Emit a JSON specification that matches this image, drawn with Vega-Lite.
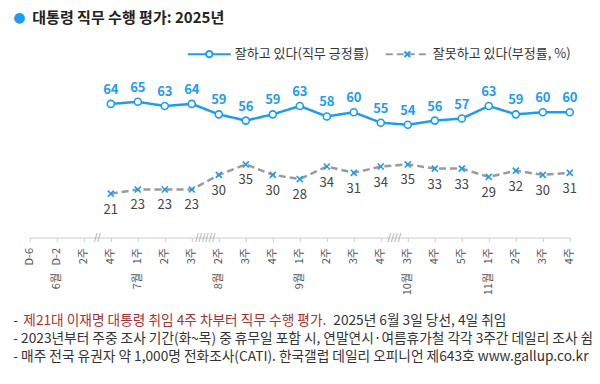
{
  "$schema": "https://vega.github.io/schema/vega-lite/v6.json",
  "width": 540,
  "height": 167,
  "autosize": "none",
  "padding": {"left": 29.8, "top": 70.5, "right": 30.2, "bottom": 146.5},
  "background": "white",
  "config": {
    "view": {"stroke": null},
    "font": "Noto Sans CJK KR",
    "legend": {"labelFont": "Noto Sans CJK KR", "titleFont": "Noto Sans CJK KR"}
  },
  "datasets": {
    "polls": [
      {"idx": 3, "series": "잘하고 있다(직무 긍정률)", "value": 64},
      {"idx": 4, "series": "잘하고 있다(직무 긍정률)", "value": 65},
      {"idx": 5, "series": "잘하고 있다(직무 긍정률)", "value": 63},
      {"idx": 6, "series": "잘하고 있다(직무 긍정률)", "value": 64},
      {"idx": 7, "series": "잘하고 있다(직무 긍정률)", "value": 59},
      {"idx": 8, "series": "잘하고 있다(직무 긍정률)", "value": 56},
      {"idx": 9, "series": "잘하고 있다(직무 긍정률)", "value": 59},
      {"idx": 10, "series": "잘하고 있다(직무 긍정률)", "value": 63},
      {"idx": 11, "series": "잘하고 있다(직무 긍정률)", "value": 58},
      {"idx": 12, "series": "잘하고 있다(직무 긍정률)", "value": 60},
      {"idx": 13, "series": "잘하고 있다(직무 긍정률)", "value": 55},
      {"idx": 14, "series": "잘하고 있다(직무 긍정률)", "value": 54},
      {"idx": 15, "series": "잘하고 있다(직무 긍정률)", "value": 56},
      {"idx": 16, "series": "잘하고 있다(직무 긍정률)", "value": 57},
      {"idx": 17, "series": "잘하고 있다(직무 긍정률)", "value": 63},
      {"idx": 18, "series": "잘하고 있다(직무 긍정률)", "value": 59},
      {"idx": 19, "series": "잘하고 있다(직무 긍정률)", "value": 60},
      {"idx": 20, "series": "잘하고 있다(직무 긍정률)", "value": 60},
      {"idx": 3, "series": "잘못하고 있다(부정률, %)", "value": 21},
      {"idx": 4, "series": "잘못하고 있다(부정률, %)", "value": 23},
      {"idx": 5, "series": "잘못하고 있다(부정률, %)", "value": 23},
      {"idx": 6, "series": "잘못하고 있다(부정률, %)", "value": 23},
      {"idx": 7, "series": "잘못하고 있다(부정률, %)", "value": 30},
      {"idx": 8, "series": "잘못하고 있다(부정률, %)", "value": 35},
      {"idx": 9, "series": "잘못하고 있다(부정률, %)", "value": 30},
      {"idx": 10, "series": "잘못하고 있다(부정률, %)", "value": 28},
      {"idx": 11, "series": "잘못하고 있다(부정률, %)", "value": 34},
      {"idx": 12, "series": "잘못하고 있다(부정률, %)", "value": 31},
      {"idx": 13, "series": "잘못하고 있다(부정률, %)", "value": 34},
      {"idx": 14, "series": "잘못하고 있다(부정률, %)", "value": 35},
      {"idx": 15, "series": "잘못하고 있다(부정률, %)", "value": 33},
      {"idx": 16, "series": "잘못하고 있다(부정률, %)", "value": 33},
      {"idx": 17, "series": "잘못하고 있다(부정률, %)", "value": 29},
      {"idx": 18, "series": "잘못하고 있다(부정률, %)", "value": 32},
      {"idx": 19, "series": "잘못하고 있다(부정률, %)", "value": 30},
      {"idx": 20, "series": "잘못하고 있다(부정률, %)", "value": 31}
    ],
    "months": [
      {"idx": 1, "month": "6월"},
      {"idx": 4, "month": "7월"},
      {"idx": 7, "month": "8월"},
      {"idx": 10, "month": "9월"},
      {"idx": 14, "month": "10월"},
      {"idx": 17, "month": "11월"}
    ],
    "breaks": [
      {"idx": 2.5, "mark": "//"},
      {"idx": 6.5, "mark": "//////"},
      {"idx": 13.5, "mark": "////"}
    ]
  },
  "layer": [
    {
      "data": {"name": "polls"},
      "mark": {"type": "line", "strokeWidth": 2.5},
      "encoding": {
        "x": {
          "field": "idx", "type": "quantitative",
          "scale": {"domain": [0, 20], "nice": false, "zero": false},
          "axis": {
            "orient": "bottom",
            "values": [0,1,2,3,4,5,6,7,8,9,10,11,12,13,14,15,16,17,18,19,20],
            "labelExpr": "['D-6','D-2','2주','4주','1주','2주','3주','2주','3주','4주','1주','2주','3주','4주','3주','4주','5주','1주','2주','3주','4주'][datum.value]",
            "labelAngle": -90,
            "labelAlign": "right",
            "labelBaseline": "middle",
            "labelFont": "Noto Sans CJK KR",
            "labelFontSize": 11,
            "labelColor": "#555555",
            "labelPadding": 6,
            "labelOverlap": false,
            "labelFlush": false,
            "labelBound": false,
            "tickSize": 4,
            "tickColor": "#cccccc",
            "domainColor": "#cccccc",
            "grid": false,
            "title": ["- 2023년부터 주중 조사 기간(화~목) 중 휴무일 포함 시, 연말연시·여름휴가철 각각 3주간 데일리 조사 쉼", "- 매주 전국 유권자 약 1,000명 전화조사(CATI). 한국갤럽 데일리 오피니언 제643호 www.gallup.co.kr"],
            "titleX": -17,
            "titleY": 105,
            "titleAlign": "left",
            "titleAnchor": "start",
            "titleAngle": 0,
            "titleBaseline": "alphabetic",
            "titleLineHeight": 18,
            "titleFont": "Noto Sans CJK KR",
            "titleFontSize": 13.7,
            "titleFontWeight": "normal",
            "titleColor": "#333333"
          }
        },
        "y": {
          "field": "value", "type": "quantitative",
          "scale": {"domain": [0, 80], "nice": false},
          "axis": {
            "orient": "left",
            "labels": false, "ticks": false, "domain": false, "grid": false,
            "title": "제21대 이재명 대통령 취임 4주 차부터 직무 수행 평가.",
            "titleX": -7,
            "titleY": 254,
            "titleAngle": 0,
            "titleAlign": "left",
            "titleBaseline": "alphabetic",
            "titleFont": "Noto Sans CJK KR",
            "titleFontSize": 13.7,
            "titleFontWeight": "normal",
            "titleColor": "#a83232"
          }
        },
        "color": {
          "field": "series", "type": "nominal",
          "scale": {"domain": ["잘하고 있다(직무 긍정률)", "잘못하고 있다(부정률, %)"], "range": ["#1e9cf0", "#9a9a9a"]},
          "legend": {
            "orient": "none", "legendX": 157, "legendY": -39, "direction": "horizontal",
            "title": null, "padding": 0, "symbolType": "stroke", "symbolSize": 1849, "symbolStrokeWidth": 2,
            "labelFontSize": 13, "labelColor": "#333333", "labelOffset": 3, "columnPadding": 12
          }
        },
        "strokeDash": {
          "field": "series", "type": "nominal",
          "scale": {"domain": ["잘하고 있다(직무 긍정률)", "잘못하고 있다(부정률, %)"], "range": [[1, 0], [7, 4]]},
          "legend": {
            "orient": "none", "legendX": 157, "legendY": -39, "direction": "horizontal",
            "title": null, "padding": 0, "symbolType": "stroke", "symbolSize": 1849, "symbolStrokeWidth": 2,
            "labelFontSize": 13, "labelColor": "#333333", "labelOffset": 3, "columnPadding": 12
          }
        }
      }
    },
    {
      "data": {"name": "polls"},
      "mark": {"type": "point", "filled": true, "fill": "white", "strokeWidth": 1.6, "size": 2178, "opacity": 1},
      "encoding": {
        "x": {"field": "idx", "type": "quantitative", "axis": null},
        "y": {"field": "value", "type": "quantitative", "axis": null},
        "shape": {
          "field": "series", "type": "nominal",
          "sort": ["잘하고 있다(직무 긍정률)", "잘못하고 있다(부정률, %)"],
          "scale": {"range": [
            "M-1,0M1,0M0.15,0A0.15,0.15,0,1,1,-0.15,0A0.15,0.15,0,1,1,0.15,0Z",
            "M-1,0M1,0M-0.13,-0.13L0.13,0.13M0.13,-0.13L-0.13,0.13"
          ]},
          "legend": null
        },
        "stroke": {
          "field": "series", "type": "nominal",
          "sort": ["잘하고 있다(직무 긍정률)", "잘못하고 있다(부정률, %)"],
          "scale": {"range": ["#1e9cf0", "#1e9cf0"]},
          "legend": {
            "orient": "none", "legendX": 157, "legendY": -39, "direction": "horizontal",
            "title": null, "padding": 0, "symbolSize": 1849, "symbolStrokeWidth": 2,
            "symbolFillColor": "white",
            "symbolType": {"expr": "datum.value == '잘하고 있다(직무 긍정률)' ? 'M-1,0M1,0M0.15,0A0.15,0.15,0,1,1,-0.15,0A0.15,0.15,0,1,1,0.15,0Z' : 'M-1,0M1,0M-0.13,-0.13L0.13,0.13M0.13,-0.13L-0.13,0.13'"},
            "labelFontSize": 13, "labelOpacity": 0, "labelOffset": 3, "columnPadding": 12
          }
        }
      }
    },
    {
      "data": {"name": "polls"},
      "transform": [{"filter": "datum.series == '잘하고 있다(직무 긍정률)'"}],
      "mark": {"type": "text", "dy": -14, "baseline": "middle", "align": "center", "fontSize": 13, "fontWeight": "bold", "color": "#1e9cf0", "font": "Noto Sans CJK KR"},
      "encoding": {
        "x": {"field": "idx", "type": "quantitative", "axis": null},
        "y": {
          "field": "value", "type": "quantitative",
          "axis": {
            "orient": "left",
            "labels": false, "ticks": false, "domain": false, "grid": false,
            "title": "-",
            "titleX": -17,
            "titleY": 254,
            "titleAngle": 0,
            "titleAlign": "left",
            "titleBaseline": "alphabetic",
            "titleFont": "Noto Sans CJK KR",
            "titleFontSize": 13.7,
            "titleFontWeight": "normal",
            "titleColor": "#333333"
          }
        },
        "text": {"field": "value", "type": "quantitative"}
      }
    },
    {
      "data": {"name": "polls"},
      "transform": [{"filter": "datum.series == '잘못하고 있다(부정률, %)'"}],
      "mark": {"type": "text", "dy": 16, "baseline": "middle", "align": "center", "fontSize": 13, "color": "#444444", "font": "Noto Sans CJK KR"},
      "encoding": {
        "x": {"field": "idx", "type": "quantitative", "axis": null},
        "y": {
          "field": "value", "type": "quantitative",
          "axis": {
            "orient": "right",
            "labels": false, "ticks": false, "domain": false, "grid": false,
            "title": "2025년 6월 3일 당선, 4일 취임",
            "titleX": -237,
            "titleY": 254,
            "titleAngle": 0,
            "titleAlign": "left",
            "titleBaseline": "alphabetic",
            "titleFont": "Noto Sans CJK KR",
            "titleFontSize": 13.7,
            "titleFontWeight": "normal",
            "titleColor": "#333333"
          }
        },
        "text": {"field": "value", "type": "quantitative"}
      }
    },
    {
      "data": {"name": "months"},
      "mark": {"type": "text", "angle": 270, "align": "right", "baseline": "middle", "fontSize": 11, "color": "#555555", "font": "Noto Sans CJK KR"},
      "encoding": {
        "x": {
          "field": "idx", "type": "quantitative",
          "axis": {
            "orient": "top",
            "labels": false, "ticks": false, "domain": false, "grid": false,
            "title": "●",
            "titleX": -17,
            "titleY": -53.5,
            "titleAngle": 0,
            "titleAlign": "left",
            "titleBaseline": "middle",
            "titleFont": "DejaVu Sans",
            "titleFontSize": 14,
            "titleFontWeight": "normal",
            "titleColor": "#1e9cf0"
          }
        },
        "y": {"datum": -17, "type": "quantitative", "axis": null},
        "text": {"field": "month", "type": "nominal"}
      }
    },
    {
      "data": {"name": "breaks"},
      "mark": {"type": "text", "align": "center", "baseline": "middle", "fontSize": 10, "color": "#aaaaaa", "font": "DejaVu Sans"},
      "encoding": {
        "x": {
          "field": "idx", "type": "quantitative",
          "axis": {
            "orient": "top",
            "labels": false, "ticks": false, "domain": false, "grid": false,
            "title": "대통령 직무 수행 평가: 2025년",
            "titleX": 2,
            "titleY": -53,
            "titleAngle": 0,
            "titleAlign": "left",
            "titleBaseline": "middle",
            "titleFont": "Noto Sans CJK KR",
            "titleFontSize": 15,
            "titleFontWeight": "bold",
            "titleColor": "#222222"
          }
        },
        "y": {"datum": 0, "type": "quantitative", "axis": null},
        "text": {"field": "mark", "type": "nominal"}
      }
    }
  ],
  "resolve": {"axis": {"x": "independent", "y": "independent"}}
}
